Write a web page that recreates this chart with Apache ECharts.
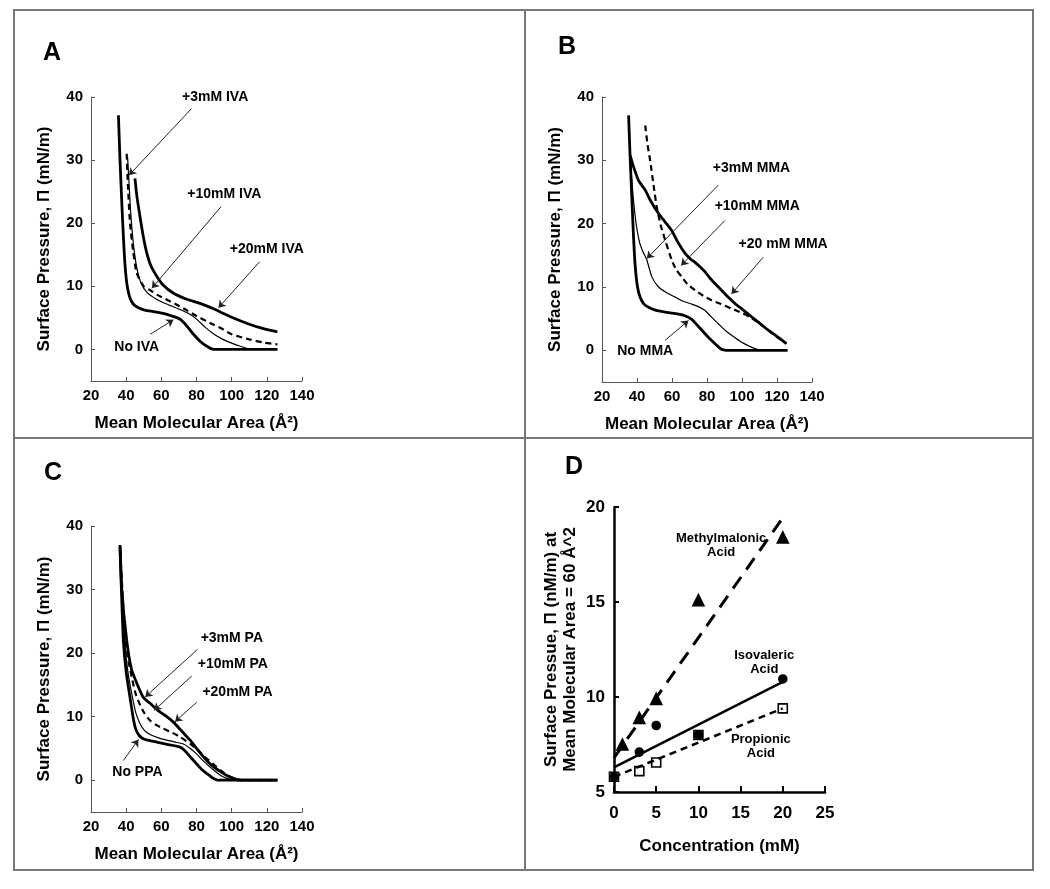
<!DOCTYPE html>
<html>
<head>
<meta charset="utf-8">
<script src="https://cdn.jsdelivr.net/npm/echarts@6/dist/echarts.min.js"></script>
<style>
  html, body { margin: 0; padding: 0; background: #fff; }
  #chart { width: 1050px; height: 889px; }
</style>
</head>
<body>
<div id="chart"></div>
<script>
// ---- panel A: isovaleric acid isotherms [area, pressure]
const aNoIva = [[35.6,37.1],[36.5,30],[37.4,24],[38.4,18],[39.4,13.2],[40.5,10.2],[42,8.3],[44,7.2],[47,6.6],[51,6.2],[55.5,6.0],[61,5.7],[66,5.3],[70,4.9],[73,4.2],[76,3.2],[78.3,2.4],[82,1.3],[85.9,0.5],[89,0.05],[91.6,0],[126,0]]
const a3mIva = [[40.8,30.5],[41.5,27],[42.5,22],[44,17],[46,13],[48.5,10.5],[52,9],[57,8],[63,7.2],[70,6.4],[76,5.6],[80,4.8],[85,3.5],[90,2.4],[95,1.6],[100,1.0],[105,0.5],[110,0.1],[114,0],[126,0]]
const a10mIva = [[40.3,31],[41,26],[42.2,20],[44,15.5],[46,12.1],[50,10],[53.6,9.4],[58,8.6],[63,7.9],[68,7.2],[74.5,6.2],[80,5.3],[87.7,4.2],[95,3.2],[100,2.4],[110,1.6],[118,1.1],[126,0.8]]
const a20mIva = [[45,27.1],[46,24.5],[47.9,21],[50,17.5],[51.7,15.3],[54,13.3],[57.4,11.6],[61,10.2],[66.9,8.9],[74,8],[82,7.3],[90,6.4],[100,5.1],[110,4.0],[118,3.3],[126,2.8]]

// ---- panel B: methylmalonic acid isotherms
const bNoMma = [[35.2,37.1],[36,31],[37.1,23.7],[38,18],[39,13.2],[40.3,10],[41.8,8.4],[44,7.3],[46.6,6.8],[50,6.4],[56,6.05],[62,5.8],[67,5.5],[71.3,4.9],[74,4.1],[77,3.2],[81,2.0],[84.6,1.05],[88,0.2],[91,0],[126,0]]
const b3mMma = [[36.1,30.8],[37,27],[38,23.7],[39.5,20],[41.5,17],[43.5,15.5],[45.6,14.3],[48.5,11.6],[52.3,10],[57,9.1],[61.8,8.4],[66,7.8],[71.3,7.3],[75,6.9],[78.9,6.3],[82,5.4],[86.5,4.2],[91,3.0],[96,2.0],[101,1.1],[105.4,0.5],[111,0],[126,0]]
const b10mMma = [[44.7,35.5],[46,32.5],[47.5,30],[49.5,26],[51.3,22.6],[53.5,19.8],[56.1,17.4],[59.9,14.2],[62.5,12.7],[65.6,11.6],[69,10.4],[73.2,9.5],[78,8.6],[82.7,7.9],[88,7.3],[94,6.6],[100,5.9],[105.4,5.1],[110,4.2],[115,3.2],[120,2.1],[125.4,1.05]]
const b20mMma = [[36.1,30.8],[38,29],[40.9,26.8],[44.7,25.3],[48,23.5],[52.3,21.6],[56,20.3],[59.9,18.9],[63.5,17],[67.5,15.3],[71,14.3],[73.2,13.9],[76,13.2],[78.9,12.4],[82,11.3],[86.5,10],[91,8.7],[96,7.4],[101,6.3],[105.4,5.3],[110,4.3],[115,3.2],[120,2.2],[125.4,1.05]]

// ---- panel C: propionic acid isotherms
const cNoPpa = [[36.5,36.7],[37.3,30],[38.4,22],[40,17],[42.2,13],[44,9.8],[45.5,8],[47.5,7],[50,6.5],[54,6.2],[57.4,6.0],[64,5.6],[70.7,5.2],[73.5,4.6],[76.4,3.7],[80,2.6],[83,1.7],[85.9,1.05],[89,0.4],[92.5,0],[126,0]]
const c3mPa = [[36.6,36.7],[37.6,30],[39,22.5],[41,17],[43.2,13.6],[45.5,10.6],[47.9,8.9],[50.5,7.8],[53.6,7.2],[58,6.7],[63.1,6.3],[68,6.0],[72.6,5.7],[76.5,5.0],[80.2,4.1],[84,3.0],[89.7,1.6],[93.5,0.8],[97.3,0.3],[102,0],[126,0]]
const c10mPa = [[36.7,36],[37.8,30],[39.5,22],[41.5,18.5],[43.5,15.8],[45.5,13.5],[48,11.8],[50.5,10.5],[53.6,9.4],[57,8.7],[61.2,8.1],[66,7.5],[70.7,6.8],[74,6.2],[77,5.6],[80.2,4.9],[85,3.6],[89.7,2.5],[94,1.5],[98,0.7],[102,0.2],[106,0],[126,0]]
const c20mPa = [[36.5,37],[37.5,30],[40.3,22],[43,17.5],[46,15.3],[49.8,13],[53.6,12.1],[58,11],[63.1,10],[67,9.1],[70.7,8.0],[74,7.0],[76.4,6.3],[80,5.0],[83.9,3.7],[88,2.5],[93.4,1.4],[97,0.8],[101,0.3],[104,0],[126,0]]

// ---- panel D: pressure at 60 A^2 vs concentration
const dMethyl = [[1,7.5],[3,8.9],[5,9.9],[10,15.1],[20,18.4]]
const dIsoval = [[0,5.8],[3,7.1],[5,8.5],[10,8.0],[20,10.95]]
const dPropio = [[0,5.8],[3,6.1],[5,6.55],[10,8.0],[20,9.4]]
const dMethylFit = [[0,6.8],[20.1,19.5]]
const dIsovalFit = [[0,6.3],[20,10.8]]
const dPropioFit = [[0,5.8],[20,9.4]]

// ---- tick labels
const isoYTicks = [0, 10, 20, 30, 40]

// ---- annotations: [text, label pos, arrow start, arrow tip]
const aNotes = [
  ['+3mM IVA', [90.6, 39.9], [77.3, 38.2], [41.6, 27.6]],
  ['+10mM IVA', [95.8, 24.6], [93.9, 22.6], [54.6, 9.7]],
  ['+20mM IVA', [120, 15.9], [115.9, 13.9], [92.5, 6.6]],
  ['No IVA', [46, 0.4], [53.6, 2.4], [66.9, 4.7]]
]
const bNotes = [
  ['+3mM MMA', [105.4, 28.7], [86.5, 26.1], [45.6, 14.5]],
  ['+10mM MMA', [108.7, 22.7], [90.2, 20.5], [65.2, 13.4]],
  ['+20 mM MMA', [123.5, 16.7], [112.1, 14.7], [94, 8.9]],
  ['No MMA', [44.7, -0.2], [56.1, 1.6], [69.4, 4.7]]
]
const cNotes = [
  ['+3mM PA', [100.1, 22.4], [80.6, 20.6], [50.8, 13.1]],
  ['+10mM PA', [100.7, 18.2], [77.3, 16.4], [55.9, 11.0]],
  ['+20mM PA', [103.3, 13.9], [80.2, 12.3], [67.8, 9.2]],
  ['No PPA', [46.4, 1.3], [38.4, 3.1], [47, 6.4]]
]
const dNotes = [
  ['Methylmalonic\nAcid', [12.7, 17.98]],
  ['Isovaleric\nAcid', [17.8, 11.84]],
  ['Propionic\nAcid', [17.4, 7.4]]
]

const FONT = 'Liberation Sans, Arial, sans-serif'
const INK = '#000'

const grids = [
  { left: 91, top: 97, width: 211, height: 284 },
  { left: 602, top: 97, width: 210, height: 285 },
  { left: 91, top: 526, width: 211, height: 286 },
  { left: 614, top: 507, width: 211, height: 285 }
]

function isoX(g) {
  return {
    gridIndex: g, type: 'value', min: 20, max: 140, interval: 20,
    name: 'Mean Molecular Area (Å²)', nameLocation: 'middle', nameGap: 34,
    nameTextStyle: { fontFamily: FONT, fontWeight: 'bold', fontSize: 17, color: INK },
    axisLine: { onZero: false, lineStyle: { color: '#555', width: 1 } },
    axisTick: { inside: true, length: 4, lineStyle: { color: '#555' } },
    axisLabel: { margin: 7, fontFamily: FONT, fontWeight: 'bold', fontSize: 15, color: INK },
    splitLine: { show: false }
  }
}
function isoY(g) {
  return {
    gridIndex: g, type: 'value', min: -5, max: 40,
    name: 'Surface Pressure, Π (mN/m)', nameLocation: 'middle', nameGap: 38,
    nameTextStyle: { fontFamily: FONT, fontWeight: 'bold', fontSize: 17, color: INK },
    axisLine: { onZero: false, lineStyle: { color: '#555', width: 1 } },
    axisTick: { inside: true, length: 4, customValues: isoYTicks, lineStyle: { color: '#555' } },
    axisLabel: { margin: 8, customValues: isoYTicks, fontFamily: FONT, fontWeight: 'bold', fontSize: 15, color: INK },
    splitLine: { show: false }
  }
}

const styles = {
  thick: { color: '#000', width: 2.8, type: 'solid' },
  thin: { color: '#000', width: 1.2, type: 'solid' },
  dash: { color: '#000', width: 2.2, type: [6, 4] }
}

function curve(g, data, st) {
  return {
    type: 'line', xAxisIndex: g, yAxisIndex: g, data: data, showSymbol: false,
    smooth: 0.2, silent: true, lineStyle: styles[st], itemStyle: { color: '#000' }
  }
}

// text labels with thin arrows pointing at the curves
function notes(g, list, size) {
  return {
    type: 'scatter', xAxisIndex: g, yAxisIndex: g, silent: true, symbolSize: 0,
    itemStyle: { opacity: 1, color: '#000' },
    data: list.map(n => ({ name: n[0], value: n[1] })),
    label: {
      show: true, position: 'inside', formatter: '{b}', fontFamily: FONT,
      fontWeight: 'bold', fontSize: size, color: INK, opacity: 1, lineHeight: size + 1
    },
    markLine: {
      silent: true, symbol: ['none', 'arrow'], symbolSize: 7, animation: false,
      label: { show: false },
      lineStyle: { color: '#222', width: 1, type: 'solid', opacity: 1 },
      data: list.filter(n => n[2]).map(n => [{ coord: n[2] }, { coord: n[3] }])
    }
  }
}

function fit(data, st) {
  return {
    type: 'line', xAxisIndex: 3, yAxisIndex: 3, data: data, showSymbol: false,
    silent: true, lineStyle: st
  }
}
function dots(data, symbol, size, fill) {
  return {
    type: 'scatter', xAxisIndex: 3, yAxisIndex: 3, data: data, symbol: symbol,
    symbolSize: size, silent: true,
    itemStyle: { color: fill, borderColor: '#000', borderWidth: 1.6, opacity: 1 }
  }
}

const panelText = (t, x, y) => ({
  type: 'text', left: x, top: y,
  style: { text: t, fontFamily: FONT, fontWeight: 'bold', fontSize: 25, fill: INK }
})

const chart = echarts.init(document.getElementById('chart'))
chart.setOption({
  animation: false,
  backgroundColor: '#fff',
  textStyle: { fontFamily: FONT },
  grid: grids,
  xAxis: [
    isoX(0), isoX(1), isoX(2),
    {
      gridIndex: 3, type: 'value', min: 0, max: 25, interval: 5,
      name: 'Concentration (mM)', nameLocation: 'middle', nameGap: 46,
      nameTextStyle: { fontFamily: FONT, fontWeight: 'bold', fontSize: 17, color: INK },
      axisLine: { onZero: false, lineStyle: { color: '#000', width: 2.5 } },
      axisTick: { inside: true, length: 6, lineStyle: { color: '#000', width: 2 } },
      axisLabel: { margin: 13, fontFamily: FONT, fontWeight: 'bold', fontSize: 17, color: INK },
      splitLine: { show: false }
    }
  ],
  yAxis: [
    isoY(0), isoY(1), isoY(2),
    {
      gridIndex: 3, type: 'value', min: 5, max: 20, interval: 5,
      name: 'Surface Pressue, Π (nM/m) at\nMean Molecular Area = 60 Å^2',
      nameLocation: 'middle', nameGap: 34,
      nameTextStyle: { fontFamily: FONT, fontWeight: 'bold', fontSize: 17, color: INK, lineHeight: 19 },
      axisLine: { onZero: false, lineStyle: { color: '#000', width: 2.5 } },
      axisTick: { inside: true, length: 5, lineStyle: { color: '#000', width: 2 } },
      axisLabel: { margin: 9, fontFamily: FONT, fontWeight: 'bold', fontSize: 17, color: INK },
      splitLine: { show: false }
    }
  ],
  graphic: [
    { type: 'rect', shape: { x: 14, y: 10, width: 1019, height: 860 }, style: { fill: 'none', stroke: '#777', lineWidth: 2 } },
    { type: 'line', shape: { x1: 525, y1: 10, x2: 525, y2: 870 }, style: { stroke: '#777', lineWidth: 2 } },
    { type: 'line', shape: { x1: 14, y1: 438, x2: 1033, y2: 438 }, style: { stroke: '#777', lineWidth: 2 } },
    panelText('A', 43, 41),
    panelText('B', 558, 35),
    panelText('C', 44, 461),
    panelText('D', 565, 455)
  ],
  series: [
    curve(0, aNoIva, 'thick'), curve(0, a3mIva, 'thin'), curve(0, a10mIva, 'dash'), curve(0, a20mIva, 'thick'),
    notes(0, aNotes, 14),
    curve(1, bNoMma, 'thick'), curve(1, b3mMma, 'thin'), curve(1, b10mMma, 'dash'), curve(1, b20mMma, 'thick'),
    notes(1, bNotes, 14),
    curve(2, cNoPpa, 'thick'), curve(2, c3mPa, 'thin'), curve(2, c10mPa, 'dash'), curve(2, c20mPa, 'thick'),
    notes(2, cNotes, 14),
    fit(dMethylFit, { color: '#000', width: 3, type: [14, 9] }),
    fit(dIsovalFit, { color: '#000', width: 2.5, type: 'solid' }),
    fit(dPropioFit, { color: '#000', width: 2.5, type: [7, 5] }),
    dots(dPropio, 'rect', 9, '#fff'),
    dots(dIsoval, 'circle', 8, '#000'),
    dots(dMethyl, 'triangle', 11, '#000'),
    notes(3, dNotes, 13)
  ]
})
</script>
</body>
</html>
